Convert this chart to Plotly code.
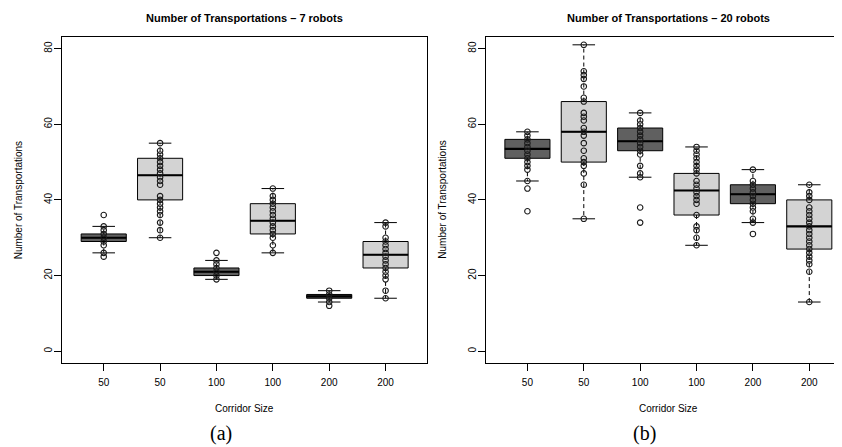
import plotly.graph_objects as go

# ---------------- data ----------------
positions = [1, 2, 3, 4, 5, 6]
tick_labels = ["50", "50", "100", "100", "200", "200"]
box_colors = ["#606060", "#d3d3d3", "#606060", "#d3d3d3", "#606060", "#d3d3d3"]

# Panel (a): 7 robots
a_q1 = [29, 40, 20, 31, 14, 22]
a_median = [30, 46.5, 21, 34.5, 14.5, 25.5]
a_q3 = [31, 51, 22, 39, 15, 29]
a_low = [26, 30, 19, 26, 13, 14]
a_high = [33, 55, 24, 43, 16, 34]
a_points = [
    [36, 33, 32, 31, 30, 29, 28, 26, 25],
    [55, 53, 52, 51, 50, 49, 48, 47, 46, 45, 44, 41, 40, 39, 38, 37, 36, 34, 32, 30],
    [26, 24, 23, 22, 21, 20, 19],
    [43, 41, 40, 39, 38, 37, 36, 35, 34, 33, 32, 31, 30, 28, 26],
    [16, 15, 14, 13, 12],
    [34, 33, 30, 29, 28, 27, 26, 25, 24, 23, 22, 21, 20, 19, 16, 14],
]

# Panel (b): 20 robots
b_q1 = [51, 50, 53, 36, 39, 27]
b_median = [53.5, 58, 55.5, 42.5, 41.5, 33]
b_q3 = [56, 66, 59, 47, 44, 40]
b_low = [45, 35, 46, 28, 34, 13]
b_high = [58, 81, 63, 54, 48, 44]
b_points = [
    [58, 57, 56, 55, 54, 53, 52, 51, 50, 49, 48, 45, 43, 37],
    [81, 74, 73, 72, 70, 67, 66, 63, 62, 61, 59, 58, 57, 55, 53, 51, 50, 49, 47, 44, 35],
    [63, 61, 60, 59, 58, 57, 56, 55, 54, 53, 52, 49, 47, 46, 38, 34],
    [54, 53, 52, 51, 50, 49, 48, 47, 45, 44, 43, 42, 41, 40, 39, 36, 33, 32, 30, 28],
    [48, 45, 44, 43, 42, 41, 40, 39, 38, 37, 35, 34, 31],
    [44, 42, 41, 40, 38, 37, 36, 35, 34, 33, 32, 31, 30, 29, 28, 27, 26, 25, 24, 23, 21, 13],
]

titles = ["Number of Transportations – 7 robots", "Number of Transportations – 20 robots"]
y_title = "Number of Transportations"
x_title = "Corridor Size"
captions = ["(a)", "(b)"]
y_ticks = [0, 20, 40, 60, 80]

# ---------------- figure ----------------
W, H = 842, 447
OFF = 8  # page body margin offset
SANS = "Liberation Sans, Arial, Helvetica, sans-serif"
SERIF = "Liberation Serif, Times New Roman, serif"
BOX_W = 0.8
CAP_HALF = 0.2


def fx(p):
    return (p - OFF) / W


def fy(p):
    return 1 - (p - OFF) / H


fig = go.Figure()


def add_panel(xa, ya, q1, med, q3, low, high, points):
    for i, p in enumerate(positions):
        fig.add_trace(go.Box(
            x=[p], q1=[q1[i]], median=[med[i]], q3=[q3[i]],
            lowerfence=[q1[i]], upperfence=[q3[i]],
            width=BOX_W, fillcolor=box_colors[i],
            line=dict(color="black", width=1), whiskerwidth=0,
            boxpoints=False, showlegend=False, hoverinfo="skip",
            xaxis=xa, yaxis=ya,
        ))
    mx, my = [], []
    for i, p in enumerate(positions):
        mx += [p - BOX_W / 2, p + BOX_W / 2, None]
        my += [med[i], med[i], None]
    fig.add_trace(go.Scatter(x=mx, y=my, mode="lines",
                             line=dict(color="black", width=2.1),
                             showlegend=False, hoverinfo="skip",
                             xaxis=xa, yaxis=ya))
    wx, wy = [], []
    for i, p in enumerate(positions):
        wx += [p, p, None, p, p, None]
        wy += [q3[i], high[i], None, q1[i], low[i], None]
    fig.add_trace(go.Scatter(x=wx, y=wy, mode="lines",
                             line=dict(color="black", width=1, dash="4px,3px"),
                             showlegend=False, hoverinfo="skip",
                             xaxis=xa, yaxis=ya))
    cx, cy = [], []
    for i, p in enumerate(positions):
        cx += [p - CAP_HALF, p + CAP_HALF, None, p - CAP_HALF, p + CAP_HALF, None]
        cy += [high[i], high[i], None, low[i], low[i], None]
    fig.add_trace(go.Scatter(x=cx, y=cy, mode="lines",
                             line=dict(color="black", width=1),
                             showlegend=False, hoverinfo="skip",
                             xaxis=xa, yaxis=ya))
    px, py = [], []
    for i, p in enumerate(positions):
        px += [p] * len(points[i])
        py += points[i]
    fig.add_trace(go.Scatter(x=px, y=py, mode="markers",
                             marker=dict(symbol="circle-open", size=5.5,
                                         color="#1a1a1a", line=dict(width=1.1)),
                             showlegend=False, hoverinfo="skip",
                             xaxis=xa, yaxis=ya))


add_panel("x", "y", a_q1, a_median, a_q3, a_low, a_high, a_points)
add_panel("x2", "y2", b_q1, b_median, b_q3, b_low, b_high, b_points)

y_dom = [fy(363.3), fy(36.5)]
tickfont = dict(family=SANS, size=10, color="black")

common_x = dict(tickvals=positions, ticktext=tick_labels, ticks="outside",
                ticklen=7, tickwidth=1, tickcolor="black", showgrid=False,
                zeroline=False, showline=True, linecolor="black", linewidth=1,
                mirror=True, tickfont=tickfont, fixedrange=True,
                ticklabelstandoff=3)
common_y = dict(range=[-3.2, 83.2], domain=y_dom, tickvals=y_ticks,
                ticks="outside", ticklen=7, tickwidth=1, tickcolor="black",
                showgrid=False, zeroline=False, showline=True, mirror=True,
                linecolor="black", linewidth=1, tickangle=-90,
                tickfont=tickfont, fixedrange=True, ticklabelstandoff=-2)

px_per_unit = (427.3 - 62) / (6.74 - 0.26)
right_end = 0.26 + (W + OFF - 485.7) / px_per_unit

fig.update_layout(
    width=W, height=H,
    margin=dict(l=0, r=0, t=0, b=0),
    paper_bgcolor="white", plot_bgcolor="white",
    showlegend=False,
    boxmode="overlay",
    xaxis=dict(domain=[fx(62), fx(427.3)], range=[0.26, 6.74], anchor="y", **common_x),
    yaxis=dict(anchor="x", **common_y),
    xaxis2=dict(domain=[fx(485.7), 1.0], range=[0.26, right_end], anchor="y2", **common_x),
    yaxis2=dict(anchor="x2", **common_y),
)

annotations = []
centers_plot = [244.7, 668.3]
for k in range(2):
    annotations.append(dict(text="<b>" + titles[k] + "</b>", x=fx(centers_plot[k]), y=fy(9.5),
                            xref="paper", yref="paper", showarrow=False,
                            xanchor="center", yanchor="top",
                            font=dict(family=SANS, size=11, color="black")))
    annotations.append(dict(text=x_title, x=fx(centers_plot[k]), y=fy(408),
                            xref="paper", yref="paper", showarrow=False,
                            xanchor="center", yanchor="middle",
                            font=dict(family=SANS, size=10, color="black")))
for xp in [18.3, 441.7]:
    annotations.append(dict(text=y_title, x=fx(xp), y=fy(200), textangle=-90,
                            xref="paper", yref="paper", showarrow=False,
                            xanchor="center", yanchor="middle",
                            font=dict(family=SANS, size=10, color="black")))
cap_x = [220.7, 644.0]
for k in range(2):
    annotations.append(dict(text=captions[k], x=fx(cap_x[k]), y=fy(433),
                            xref="paper", yref="paper", showarrow=False,
                            xanchor="center", yanchor="middle",
                            font=dict(family=SERIF, size=20, color="black")))
fig.update_layout(annotations=annotations)

fig.write_html("out.html")
